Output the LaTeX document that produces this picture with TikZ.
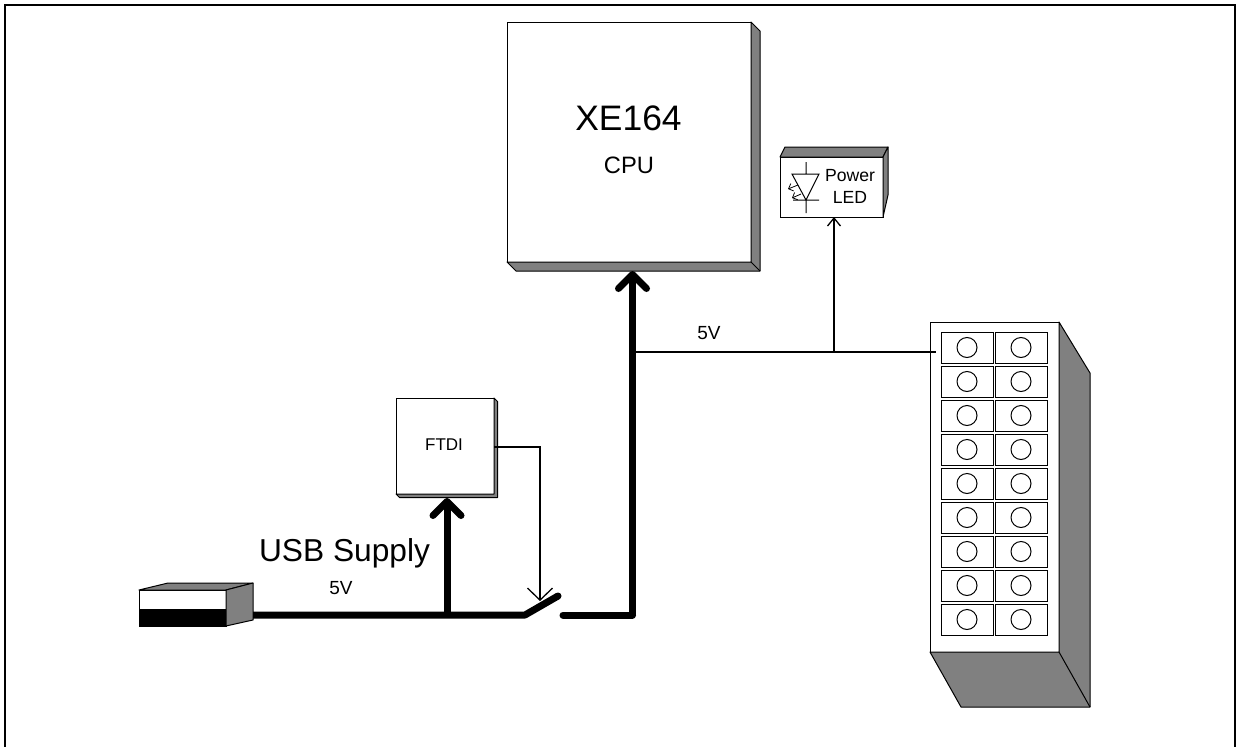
\documentclass[tikz,border=0pt]{standalone}
\usepackage{fontspec}
\setmainfont{Liberation Sans}
\usetikzlibrary{arrows.meta}

\tikzset{
  chip/.style={draw, fill=white, line width=1pt, inner sep=0pt, outer sep=0pt},
  side/.style={draw, fill=black!50, line width=1pt, line join=round},
  cell/.style={draw, line width=1pt, inner sep=0pt, outer sep=0pt, minimum width=52pt, minimum height=31pt},
  pin/.style={draw, circle, line width=1pt, inner sep=0pt, outer sep=0pt, minimum size=20pt},
  thinwire/.style={line width=1.3pt},
  thickwire/.style={line width=7pt, line join=round},
  barbled/.style={-{Straight Barb[length=8pt,width=13pt]}},
  barbthin/.style={-{Straight Barb[length=12pt,width=25pt]}},
  barbthick/.style={-{Straight Barb[length=14pt,width=28pt,round]}},
  barbtiny/.style={line width=.8pt, -{Straight Barb[length=4pt,width=8pt]}},
  lbl/.style={inner sep=0pt, outer sep=0pt, align=center}
}

\begin{document}
\begin{tikzpicture}[x=1pt,y=-1pt]
        \useasboundingbox (0,0) rectangle (1240,747);
        \draw[line width=2pt] (5,747) -- (5,5) -- (1235,5) -- (1235,747);

        \node[chip, minimum width=244pt, minimum height=240pt] (cpu) at (629,142) {};
        \draw[side] (cpu.north east) -- ++(9,9) -- ++(0,240) -- ++(-244,0) -- (cpu.south west) -- (cpu.south east) -- cycle;
        \draw[line width=1pt] (cpu.south east) -- ++(9,9);
        \node[lbl, font=\fontsize{35.4pt}{40pt}\selectfont] (cpuname) at (628.5,118) {XE164};
        \node[lbl, font=\fontsize{23.7pt}{28pt}\selectfont] (cpulabel) at (629,165) {CPU};

        \node[chip, minimum width=103pt, minimum height=60pt] (led) at (831.5,187) {};
        \draw[side] (led.north west) -- ++(5,-10) -- ++(103,0) -- (led.north east) -- cycle;
        \draw[side] (led.north east) -- ++(5,-10) -- ++(0,48) -- (led.south east) -- cycle;
        \node[lbl, font=\fontsize{17.6pt}{21pt}\selectfont] (ledpower) at (850,176) {Power};
        \node[lbl, font=\fontsize{17.6pt}{21pt}\selectfont] (ledname) at (850,197) {LED};
        \draw[line width=1pt] (806,162) -- (806,174) (792,174) -- (819,174) -- (806,200) -- cycle
          (793,200) -- (819,200) (806,200) -- (806,213);
        \draw[barbtiny] (798,185) -- (788,189);
        \draw[barbtiny] (801,194) -- (792,198);

        \node[chip, minimum width=98pt, minimum height=96pt] (ftdi) at (445,446) {};
        \draw[side] (ftdi.north east) -- ++(3.5,3.5) -- ++(0,96) -- ++(-98,0) -- (ftdi.south west) -- (ftdi.south east) -- cycle;
        \node[lbl, font=\fontsize{17pt}{20pt}\selectfont] (ftdiname) at (444,445) {FTDI};

        \node[chip, fill=white, minimum width=87pt, minimum height=19pt] (usbtop) at (182.5,599.5) {};
        \node[chip, fill=black, minimum width=87pt, minimum height=17pt] (usbbot) at (182.5,617.5) {};
        \draw[side] (usbtop.north west) -- (168,583) -- (253,583) -- (usbtop.north east) -- cycle;
        \draw[side] (usbtop.north east) -- (253,583) -- (253,620) -- (usbbot.south east) -- cycle;

        \node[chip, minimum width=129pt, minimum height=330pt] (block) at (994.5,487) {};
        \draw[side] (block.north east) -- (1090,373) -- (1090,707) -- (961,707) -- (block.south west) -- (block.south east) -- cycle;
        \draw[line width=1pt] (block.south east) -- (1090,707);
        \foreach \row in {1,...,9} {
          \foreach \col/\cx in {1/967,2/1021} {
            \node[cell] (cell\row\col) at (\cx,{347.5+34*(\row-1)}) {};
            \node[pin] (pin\row\col) at (cell\row\col.center) {};
          }
        }

        \coordinate (usbout) at (253,615);
        \coordinate (ftditap) at (447,615);
        \coordinate (ftdiin) at (447,498);
        \coordinate (swa) at (525,615);
        \coordinate (swb) at (558,596);
        \coordinate (swc) at (563,615);
        \coordinate (bend) at (632.5,615);
        \coordinate (cpuin) at (632.5,271);
        \coordinate (cputap) at (632.5,352);
        \coordinate (ledtap) at (834,352);
        \coordinate (blockin) at (936,352);
        \coordinate (ftdiout) at (540,447);
        \coordinate (swctl) at (540,601);

        \draw[thickwire] (usbout) -- (swa) -- (swb);
        \fill (swb) circle (3.5pt);
        \draw[thickwire, line cap=round] (swc) -- (bend);
        \draw[thickwire, barbthick] (bend) -- (cpuin);
        \draw[thickwire, barbthick] (ftditap) -- (ftdiin);
        \draw[thinwire] (cputap) -- (blockin);
        \draw[thinwire, barbled] (ledtap) -- (led.south -| ledtap);
        \draw[thinwire, barbthin] (ftdi.east |- ftdiout) -- (ftdiout) -- (swctl);

        \node[lbl, font=\fontsize{31.7pt}{36pt}\selectfont] (usbname) at (344.5,553) {USB Supply};
        \node[lbl, font=\fontsize{19pt}{22pt}\selectfont] (usbvolt) at (341,588) {5V};
        \node[lbl, font=\fontsize{19pt}{22pt}\selectfont] (railvolt) at (709,333) {5V};
\end{tikzpicture}
\end{document}
